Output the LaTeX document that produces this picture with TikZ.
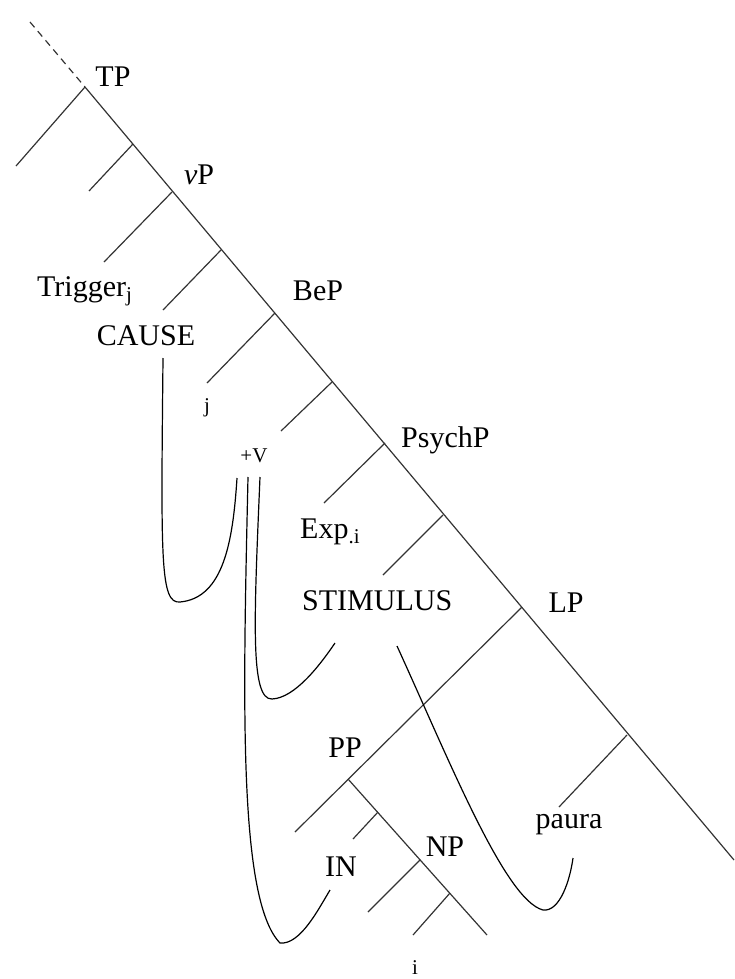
\documentclass[tikz,border=0pt]{standalone}
\usepackage{fontspec}
\setmainfont{Liberation Serif}
\usepackage{tikz}
\definecolor{ink}{HTML}{333333}
\tikzset{
  lbl/.style={inner sep=0pt,font=\fontsize{30}{33}\selectfont},
  idx/.style={inner sep=0pt,font=\fontsize{21}{23}\selectfont},
  branch/.style={ink,line width=1.2pt},
  move/.style={black,line width=1.2pt}
}

\begin{document}
\begin{tikzpicture}[x=1pt,y=-1pt]
\useasboundingbox (0,0) rectangle (734,979);
% spine with its left daughters
\coordinate (top) at (30,22);
\foreach \n/\sx/\sy/\ex/\ey in {0/85/87/16/166,1/133/144/89/191,2/172/192/104/262,3/221/250/163/310,
  4/275/313/207/383,5/332/382/281/431,6/385/443/324/503,7/443/515/383/575,8/522/607/295/832,9/627/735/559/807}{
  \coordinate (s\n) at (\sx,\sy);
  \coordinate (e\n) at (\ex,\ey);
  \draw[branch] (s\n)--(e\n);}
\coordinate (bot) at (734,860);
\draw[branch,dash pattern=on 7pt off 5pt] (top)--(s0);
\draw[branch] (s0)--(bot);
% PP inside LP
\coordinate (pp) at (348,779);
\coordinate (ppend) at (487,935);
\draw[branch] (pp)--(ppend);
\foreach \n/\sx/\sy/\ex/\ey in {1/378/812/353/839,2/420/860/368/912,3/450/893/413/935}{
  \coordinate (p\n) at (\sx,\sy);
  \coordinate (q\n) at (\ex,\ey);
  \draw[branch] (p\n)--(q\n);}
% labels
\node[lbl] (tp) at (113,77) {TP};
\node[lbl] (vp) at (199,175) {\textit{v}P};
\node[lbl,anchor=west] (trig) at (37,291) {Trigger\textsubscript{j}};
\node[lbl] (cause) at (146,336) {CAUSE};
\node[lbl] (bep) at (318,291) {BeP};
\node[idx] (jj) at (207,408) {j};
\node[idx] (plusv) at (254,456) {+V};
\node[lbl,anchor=west] (psych) at (401,440) {PsychP};
\node[lbl,anchor=west] (exp) at (300,532) {Exp\textsubscript{.i}};
\node[lbl,anchor=west] (stim) at (302,601) {STIMULUS};
\node[lbl] (lp) at (566,603) {LP};
\node[lbl] (ppl) at (345,748) {PP};
\node[lbl] (in) at (341,867) {IN};
\node[lbl] (np) at (445,847) {NP};
\node[lbl] (paura) at (569,825) {paura};
\node[idx] (ii) at (415,968) {i};
% movement lines
\coordinate (c1a) at (163,358);
\coordinate (c1b) at (237,478);
\coordinate (c2a) at (248,477);
\coordinate (c2b) at (330,890);
\coordinate (c3a) at (260,477);
\coordinate (c3b) at (335,643);
\coordinate (c4a) at (397,646);
\coordinate (c4b) at (573,858);
\draw[move] (c1a) .. controls (161,560) and (160,604) .. (180,602) .. controls (224,598) and (233,540) .. (c1b);
\draw[move] (c2a) .. controls (243,700) and (238,900) .. (280,943) .. controls (300,945) and (318,910) .. (c2b);
\draw[move] (c3a) .. controls (254,620) and (250,700) .. (272,699) .. controls (295,698) and (320,665) .. (c3b);
\draw[move] (c4a) .. controls (450,762) and (505,900) .. (543,910) .. controls (560,912) and (570,880) .. (c4b);
\end{tikzpicture}
\end{document}
